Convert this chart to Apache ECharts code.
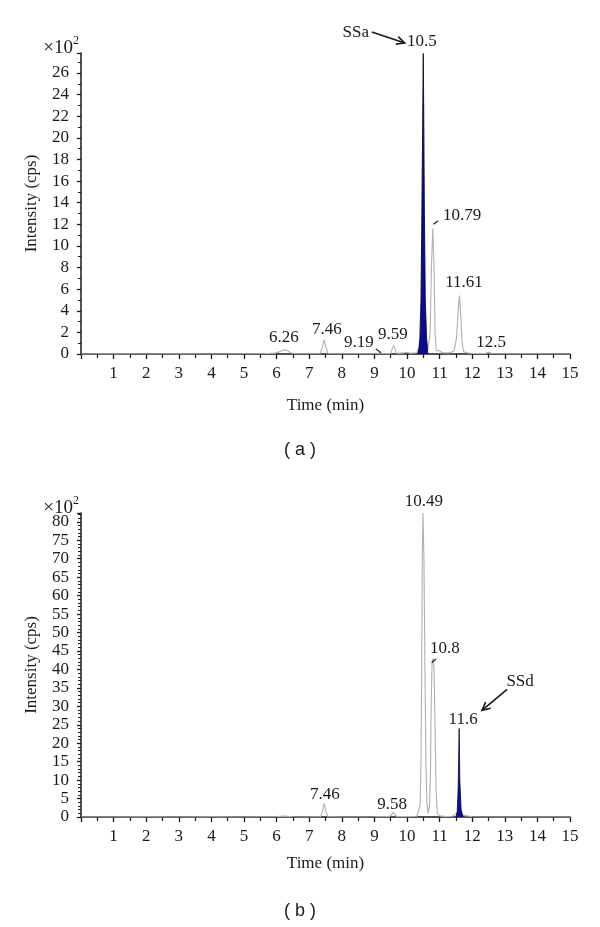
<!DOCTYPE html>
<html><head><meta charset="utf-8">
<script src="https://cdn.jsdelivr.net/npm/echarts@6/dist/echarts.min.js"></script>
<style>html,body{margin:0;padding:0;background:#fff}#c{width:600px;height:927px}</style>
</head><body><div id="c"></div>
<script>
// ---- data ----
const xTickLabels = ['', '1', '2', '3', '4', '5', '6', '7', '8', '9', '10', '11', '12', '13', '14', '15'];

// chromatogram (a): grey total trace, time (min) vs intensity (x10^2 cps)
const traceA = [
  [0,0],[1,0.02],[2,0],[3,0.02],[4,0],[5,0.03],[5.6,0.02],[5.95,0.08],[6.1,0.22],[6.2,0.38],[6.26,0.42],
  [6.33,0.32],[6.42,0.12],[6.55,0.05],[7.0,0.02],[7.34,0.05],[7.41,0.7],[7.46,1.3],[7.51,0.7],[7.57,0.05],
  [8.0,0.02],[8.6,0.03],[9.1,0.05],[9.19,0.1],[9.3,0.03],[9.5,0.06],[9.55,0.5],[9.59,0.8],[9.63,0.5],
  [9.68,0.06],[9.9,0.1],[10.0,0.16],[10.1,0.06],[10.3,0.12],[10.37,0.6],[10.43,5],[10.46,14],[10.5,27.8],
  [10.53,14],[10.56,5],[10.6,1.4],[10.64,0.4],[10.68,0.5],[10.71,2],[10.75,8],[10.79,11.6],[10.83,8],
  [10.86,2],[10.9,0.3],[11.0,0.3],[11.1,0.1],[11.3,0.1],[11.45,0.3],[11.52,1.5],[11.57,4],[11.61,5.4],
  [11.65,3.5],[11.69,1],[11.74,0.2],[11.85,0.1],[12.0,0.05],[12.4,0.05],[12.5,0.15],[12.6,0.05],[13,0.03],
  [14,0.02],[15,0]
];
// chromatogram (a): highlighted SSa peak
const peakA = [
  [10.33,0],[10.37,0.6],[10.4,1.5],[10.43,5],[10.46,14],[10.5,27.8],[10.53,14],[10.56,5],[10.6,1.4],[10.64,0]
];

// chromatogram (b): grey total trace
const traceB = [
  [0,0],[1,0],[2,0.05],[3,0],[4,0.05],[5,0],[6,0.1],[6.2,0.25],[6.5,0.05],[7.0,0],[7.35,0.1],[7.41,1.6],
  [7.46,3.7],[7.51,1.6],[7.57,0.1],[8.0,0],[9.0,0.05],[9.45,0.1],[9.53,0.6],[9.58,1.3],[9.63,0.6],[9.7,0.1],
  [10.0,0.1],[10.3,0.2],[10.36,0.3],[10.4,3],[10.43,15],[10.45,40],[10.47,70],[10.49,82.4],[10.52,70],
  [10.55,40],[10.58,15],[10.61,4],[10.65,1],[10.69,3],[10.72,12],[10.74,30],[10.77,42],[10.8,43],[10.83,40],
  [10.86,25],[10.89,8],[10.93,1],[11.0,0.3],[11.2,0.1],[11.4,0.2],[11.47,0.8],[11.52,0.6],[11.6,0.8],
  [11.7,0.5],[11.76,0.1],[12.0,0.05],[13,0.02],[14,0],[15,0]
];
// chromatogram (b): highlighted SSd peak
const peakB = [
  [11.5,0],[11.54,1.5],[11.57,8],[11.6,24],[11.62,10],[11.66,2],[11.72,0]
];

// peak labels: [time, intensity, text]
const labelsA = [[6.22,1.48,'6.26'],[7.54,2.22,'7.46'],[8.52,1.02,'9.19'],[9.57,1.76,'9.59'],
  [10.46,28.87,'10.5'],[11.69,12.77,'10.79'],[11.75,6.57,'11.61'],[12.58,1.02,'12.5']];
const labelsB = [[7.48,6.2,'7.46'],[9.54,3.5,'9.58'],[10.52,85.6,'10.49'],[11.16,45.75,'10.8'],[11.72,26.5,'11.6']];
// compound annotations: [textX, textY, text, fromX, fromY, toX, toY]
const annotA = [[8.43,29.79,'SSa',8.92,29.79,9.93,28.78]];
const annotB = [[13.47,36.8,'SSd',13.07,34.6,12.3,28.9]];
// leader ticks: [x1,y1,x2,y2]
const leadersA = [[9.05,0.46,9.2,0.12],[10.81,12.0,10.95,12.3]];
const leadersB = [[10.76,41.9,10.89,42.8]];

// ---- chart ----
const SERIF = '"Liberation Serif", "DejaVu Serif", serif';
const ink = '#1a1a1a';
const chart = echarts.init(document.getElementById('c'), null, {renderer: 'canvas'});

function xAxis(gi, gap) {
  return {
    type: 'value', gridIndex: gi, min: 0, max: 15, interval: 1,
    name: 'Time (min)', nameLocation: 'middle', nameGap: gap,
    nameTextStyle: {fontFamily: SERIF, fontSize: 17, color: ink},
    axisLine: {lineStyle: {color: ink, width: 1.5}},
    axisTick: {show: true, length: 5, lineStyle: {color: ink, width: 1.3}},
    minorTick: {show: true, splitNumber: 2, length: 4, lineStyle: {color: ink, width: 1.2}},
    splitLine: {show: false},
    axisLabel: {margin: 11, fontFamily: SERIF, fontSize: 17, color: ink,
      formatter: v => xTickLabels[Math.round(v)] || ''}
  };
}
function yAxis(gi, max, interval, minorSplit) {
  return {
    type: 'value', gridIndex: gi, min: 0, max: max, interval: interval,
    name: 'Intensity (cps)', nameLocation: 'middle', nameGap: 41, nameRotate: 90,
    nameTextStyle: {fontFamily: SERIF, fontSize: 17, color: ink},
    axisLine: {show: true, lineStyle: {color: ink, width: 1.5}},
    axisTick: {show: true, length: 4, lineStyle: {color: ink, width: 1.3}},
    minorTick: {show: true, splitNumber: minorSplit, length: 3, lineStyle: {color: ink, width: 1}},
    splitLine: {show: false},
    axisLabel: {margin: 12, fontFamily: SERIF, fontSize: 17, color: ink,
      formatter: v => (Math.abs(v / interval - Math.round(v / interval)) < 1e-6 ? String(v) : '')}
  };
}
const greyLine = {color: '#b0b0b0', width: 1.1};
const blueLine = {color: '#06063f', width: 0.8};
const blueArea = {color: '#0c0c8c', opacity: 1};

chart.setOption({
  animation: false,
  backgroundColor: '#fff',
  grid: [
    {left: 81, right: 30, top: 53, height: 301},
    {left: 81, right: 30, top: 513, height: 304}
  ],
  xAxis: [xAxis(0, 43), xAxis(1, 38)],
  yAxis: [yAxis(0, 27.85, 2, 2), yAxis(1, 82.4, 5, 5)],
  series: [
    {type: 'line', xAxisIndex: 0, yAxisIndex: 0, data: traceA, showSymbol: false, symbol: 'none', lineStyle: greyLine, z: 2},
    {type: 'line', xAxisIndex: 0, yAxisIndex: 0, data: peakA, showSymbol: false, symbol: 'none', lineStyle: blueLine, areaStyle: blueArea, z: 3},
    {type: 'line', xAxisIndex: 1, yAxisIndex: 1, data: traceB, showSymbol: false, symbol: 'none', lineStyle: greyLine, z: 2},
    {type: 'line', xAxisIndex: 1, yAxisIndex: 1, data: peakB, showSymbol: false, symbol: 'none', lineStyle: blueLine, areaStyle: blueArea, z: 3}
  ]
});

// ---- annotations positioned through the axes ----
const g = [];
function px(gi, x, y) { return chart.convertToPixel({gridIndex: gi}, [x, y]); }
function text(x, y, s, font, align) {
  g.push({type: 'text', z: 10, style: {text: s, x: x, y: y, font: font, fill: ink,
    align: align || 'center', verticalAlign: 'middle', textAlign: align || 'center', textVerticalAlign: 'middle'}});
}
function line(p1, p2, w) {
  g.push({type: 'line', z: 10, shape: {x1: p1[0], y1: p1[1], x2: p2[0], y2: p2[1]}, style: {stroke: ink, lineWidth: w || 1}});
}
function arrow(p1, p2) {
  line(p1, p2, 1.6);
  const a = Math.atan2(p2[1] - p1[1], p2[0] - p1[0]), L = 9, s = 0.45;
  g.push({type: 'polyline', z: 10, shape: {points: [
    [p2[0] - L * Math.cos(a - s), p2[1] - L * Math.sin(a - s)], p2,
    [p2[0] - L * Math.cos(a + s), p2[1] - L * Math.sin(a + s)]]},
    style: {stroke: ink, lineWidth: 1.6, fill: null}});
}
const lblFont = '17px ' + SERIF;
[[0, labelsA, annotA, leadersA], [1, labelsB, annotB, leadersB]].forEach(([gi, labs, ann, lead]) => {
  labs.forEach(([x, y, s]) => { const p = px(gi, x, y); text(p[0], p[1], s, lblFont); });
  ann.forEach(([tx, ty, s, x1, y1, x2, y2]) => {
    const p = px(gi, tx, ty); text(p[0], p[1], s, lblFont);
    arrow(px(gi, x1, y1), px(gi, x2, y2));
  });
  lead.forEach(([x1, y1, x2, y2]) => line(px(gi, x1, y1), px(gi, x2, y2), 1.2));
  // multiplier above the axis
  const top = px(gi, 0, gi === 0 ? 27.85 : 82.4);
  g.push({type: 'text', z: 10, style: {text: '×10', x: top[0] - 8, y: top[1] - 5, font: '19px ' + SERIF, fill: ink,
    align: 'right', verticalAlign: 'middle', textAlign: 'right', textVerticalAlign: 'middle'}});
  g.push({type: 'text', z: 10, style: {text: '2', x: top[0] - 8, y: top[1] - 12, font: '12px ' + SERIF, fill: ink,
    align: 'left', verticalAlign: 'middle', textAlign: 'left', textVerticalAlign: 'middle'}});
});
text(300, 450, '( a )', '18px "Liberation Sans", Arial, sans-serif');
text(300, 911, '( b )', '18px "Liberation Sans", Arial, sans-serif');
chart.setOption({graphic: g});
</script>
</body></html>
